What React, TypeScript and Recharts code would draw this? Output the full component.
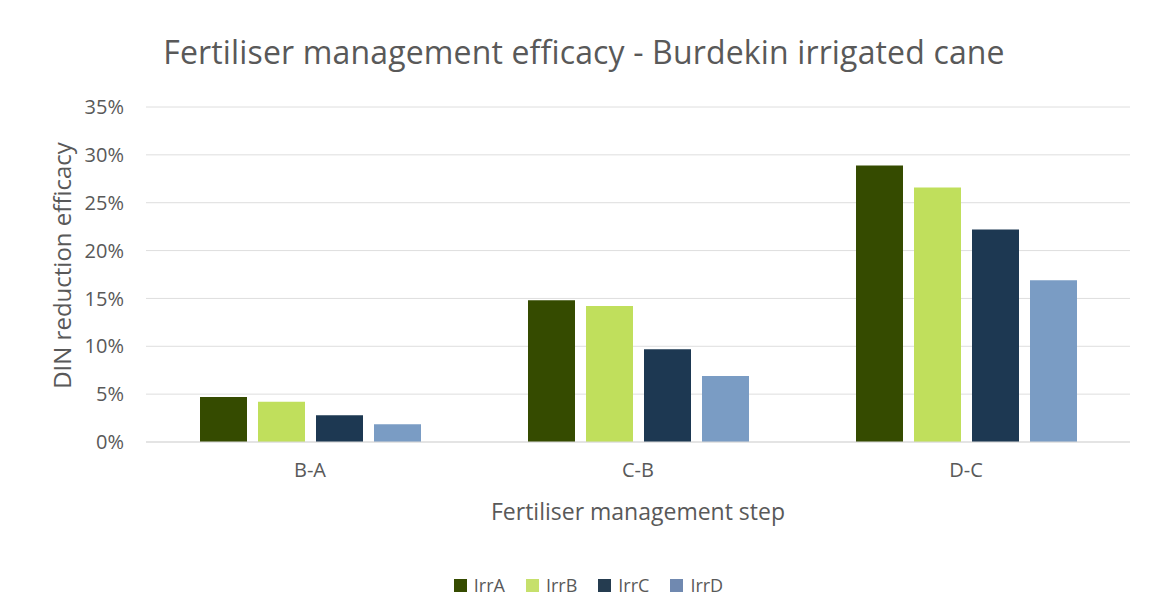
import React from 'react';
import { BarChart, Bar, XAxis, YAxis, CartesianGrid, Legend } from 'recharts';

const categories = ['B-A', 'C-B', 'D-C'];
const irrA = [4.7, 14.8, 28.9];
const irrB = [4.2, 14.2, 26.6];
const irrC = [2.8, 9.7, 22.2];
const irrD = [1.85, 6.9, 16.9];
const yTicks = [0, 5, 10, 15, 20, 25, 30, 35];

const seriesNames = ['IrrA', 'IrrB', 'IrrC', 'IrrD'];
const seriesColors = ['#354b00', '#c0df5c', '#1d3852', '#7a9cc4'];
const legendColors = ['#354b00', '#c6e06c', '#253c50', '#7089b0'];

const data = categories.map((c, i) => ({
  name: c,
  IrrA: irrA[i],
  IrrB: irrB[i],
  IrrC: irrC[i],
  IrrD: irrD[i],
}));

const FONT = '"Open Sans", sans-serif';
const TEXT = '#595959';

const LegendContent = () => (
  <div style={{ display: 'flex', justifyContent: 'center', alignItems: 'center', fontFamily: FONT, fontSize: 18, color: TEXT }}>
    {seriesNames.map((n, i) => (
      <div key={n} style={{ display: 'flex', alignItems: 'center', marginRight: i < 3 ? 21 : 0 }}>
        <span style={{ display: 'inline-block', width: 13, height: 13, background: legendColors[i], marginRight: 7 }} />
        <span>{n}</span>
      </div>
    ))}
  </div>
);

const YLabel = (props: any) => {
  const vb = props.viewBox || {};
  const cx = vb.x + 61;
  const cy = vb.y + vb.height / 2 - 9;
  return (
    <text
      x={cx}
      y={cy}
      transform={`rotate(-90, ${cx}, ${cy})`}
      textAnchor="middle"
      dominantBaseline="central"
      fill={TEXT}
      fontSize={24}
      fontFamily={FONT}
    >
      DIN reduction efficacy
    </text>
  );
};

export default function App() {
  return (
    <div style={{ position: 'absolute', left: 0, top: 0, width: 1151, height: 616, background: '#fff' }}>
      <div
        style={{
          position: 'absolute',
          left: 0,
          width: 1168,
          top: 32,
          textAlign: 'center',
          fontFamily: FONT,
          fontSize: 32,
          color: TEXT,
          lineHeight: '40px',
          whiteSpace: 'nowrap',
          letterSpacing: 0.15,
        }}
      >
        Fertiliser management efficacy - Burdekin irrigated cane
      </div>
      <BarChart
        width={1151}
        height={616}
        data={data}
        margin={{ top: 107, right: 21, left: 0, bottom: 74 }}
        barSize={47}
        barGap={11}
      >
        <CartesianGrid vertical={false} stroke="#dedede" />
        <XAxis
          dataKey="name"
          height={100}
          tickLine={false}
          axisLine={{ stroke: '#d9d9d9' }}
          tickSize={0}
          tickMargin={21}
          tick={{ fill: TEXT, fontSize: 20, fontFamily: FONT }}
          label={{ value: 'Fertiliser management step', position: 'insideTop', offset: 62, fill: TEXT, fontSize: 23, fontFamily: FONT }}
        />
        <YAxis
          width={146}
          domain={[0, 35]}
          ticks={yTicks}
          interval={0}
          tickFormatter={(v) => `${v}%`}
          tickLine={false}
          axisLine={false}
          tickSize={0}
          tickMargin={22}
          tick={{ fill: TEXT, fontSize: 20, fontFamily: FONT }}
          label={<YLabel />}
        />
        <Legend
          verticalAlign="middle"
          layout="horizontal"
          align="center"
          content={<LegendContent />}
          wrapperStyle={{ top: 573, left: 13, width: 1151, height: 26 }}
        />
        {seriesNames.map((n, i) => (
          <Bar key={n} dataKey={n} fill={seriesColors[i]} isAnimationActive={false} />
        ))}
      </BarChart>
    </div>
  );
}
